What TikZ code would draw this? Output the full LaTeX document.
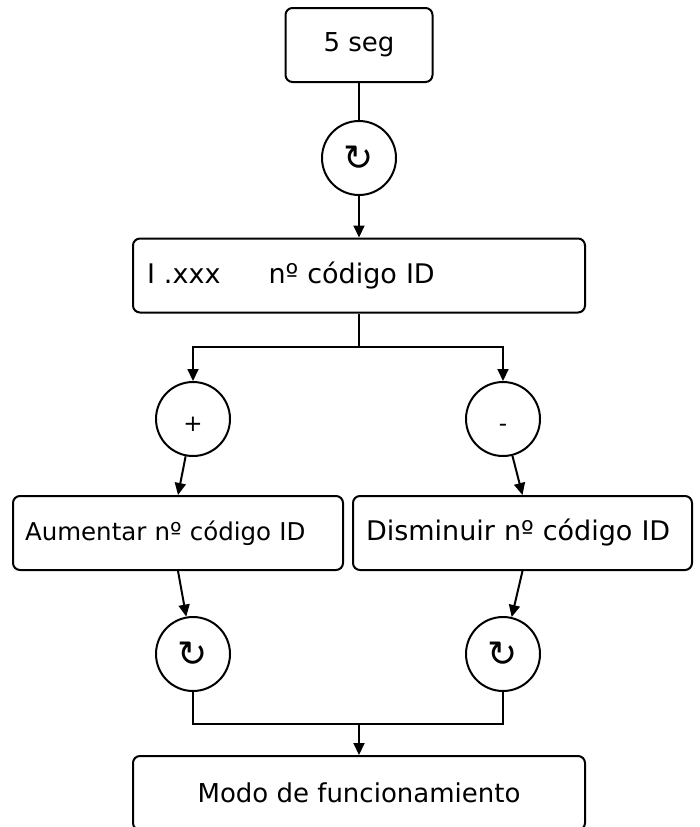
\documentclass[tikz,border=0pt]{standalone}
\usepackage{fontspec}
\setmainfont{DejaVu Sans}
\usetikzlibrary{positioning, arrows.meta, calc}

\tikzset{
  caja/.style={draw, line width=2pt, rounded corners=7pt, minimum height=74pt,
    inner sep=0pt, font=\fontsize{26}{30}\selectfont},
  giro/.style={draw, circle, line width=2pt, minimum size=74pt, inner sep=0pt},
  signo/.style={giro, text height=24pt, text depth=0pt, font=\fontsize{23}{23}\selectfont},
  linea/.style={line width=2pt},
  flecha/.style={linea, -{Triangle[length=12pt,width=11pt]}},
}
\newcommand{\simbologiro}{{\fontsize{36}{36}\selectfont ↻}}

\begin{document}
\begin{tikzpicture}[x=1pt, y=-1pt]
  \useasboundingbox (0,0) rectangle (700,827);
  \clip (0,0) rectangle (700,827);

  % cabecera
  \node[caja, minimum width=147pt] (seg) at (359,45) {5 seg};
  \node[giro] (g0) at (359,158) {\simbologiro};
  \node[caja, text width=424pt, inner xsep=14pt, align=left,
    font=\fontsize{27}{30}\selectfont] (id) at (359,275.5)
    {I .xxx\hspace{48pt}nº código ID};
  \draw[linea] (seg) -- (g0);
  \draw[flecha] (g0) -- (id);

  % ramas + / -
  \node[signo] (mas) at (193,419) {+};
  \node[signo] (menos) at (503,419) {-};
  \coordinate (bif) at (359,347);
  \draw[linea] (id.south) -- (bif);
  \draw[flecha] (bif) -| (mas);
  \draw[flecha] (bif) -| (menos);

  \node[caja, text width=306pt, inner xsep=12pt, align=left,
    font=\fontsize{24.5}{28}\selectfont] (aum) at (178,533) {Aumentar nº código ID};
  \node[caja, text width=313pt, inner xsep=13pt, align=left,
    font=\fontsize{27}{30}\selectfont] (dis) at (522.5,533) {Disminuir nº código ID};
  \draw[flecha] (mas) -- (aum.north);
  \draw[flecha] (menos) -- (dis.north);

  \node[giro] (gi) at (193,654) {\simbologiro};
  \node[giro] (gd) at (503,654) {\simbologiro};
  \draw[flecha] (aum.south) -- (gi);
  \draw[flecha] (dis.south) -- (gd);

  % union final
  \coordinate (union) at (359,724);
  \node[caja, minimum width=452pt] (modo) at (359,793) {Modo de funcionamiento};
  \draw[linea] (gi.south) -- (gi.south |- union) -- (gd.south |- union) -- (gd.south);
  \draw[flecha] (union) -- (modo);
\end{tikzpicture}
\end{document}
